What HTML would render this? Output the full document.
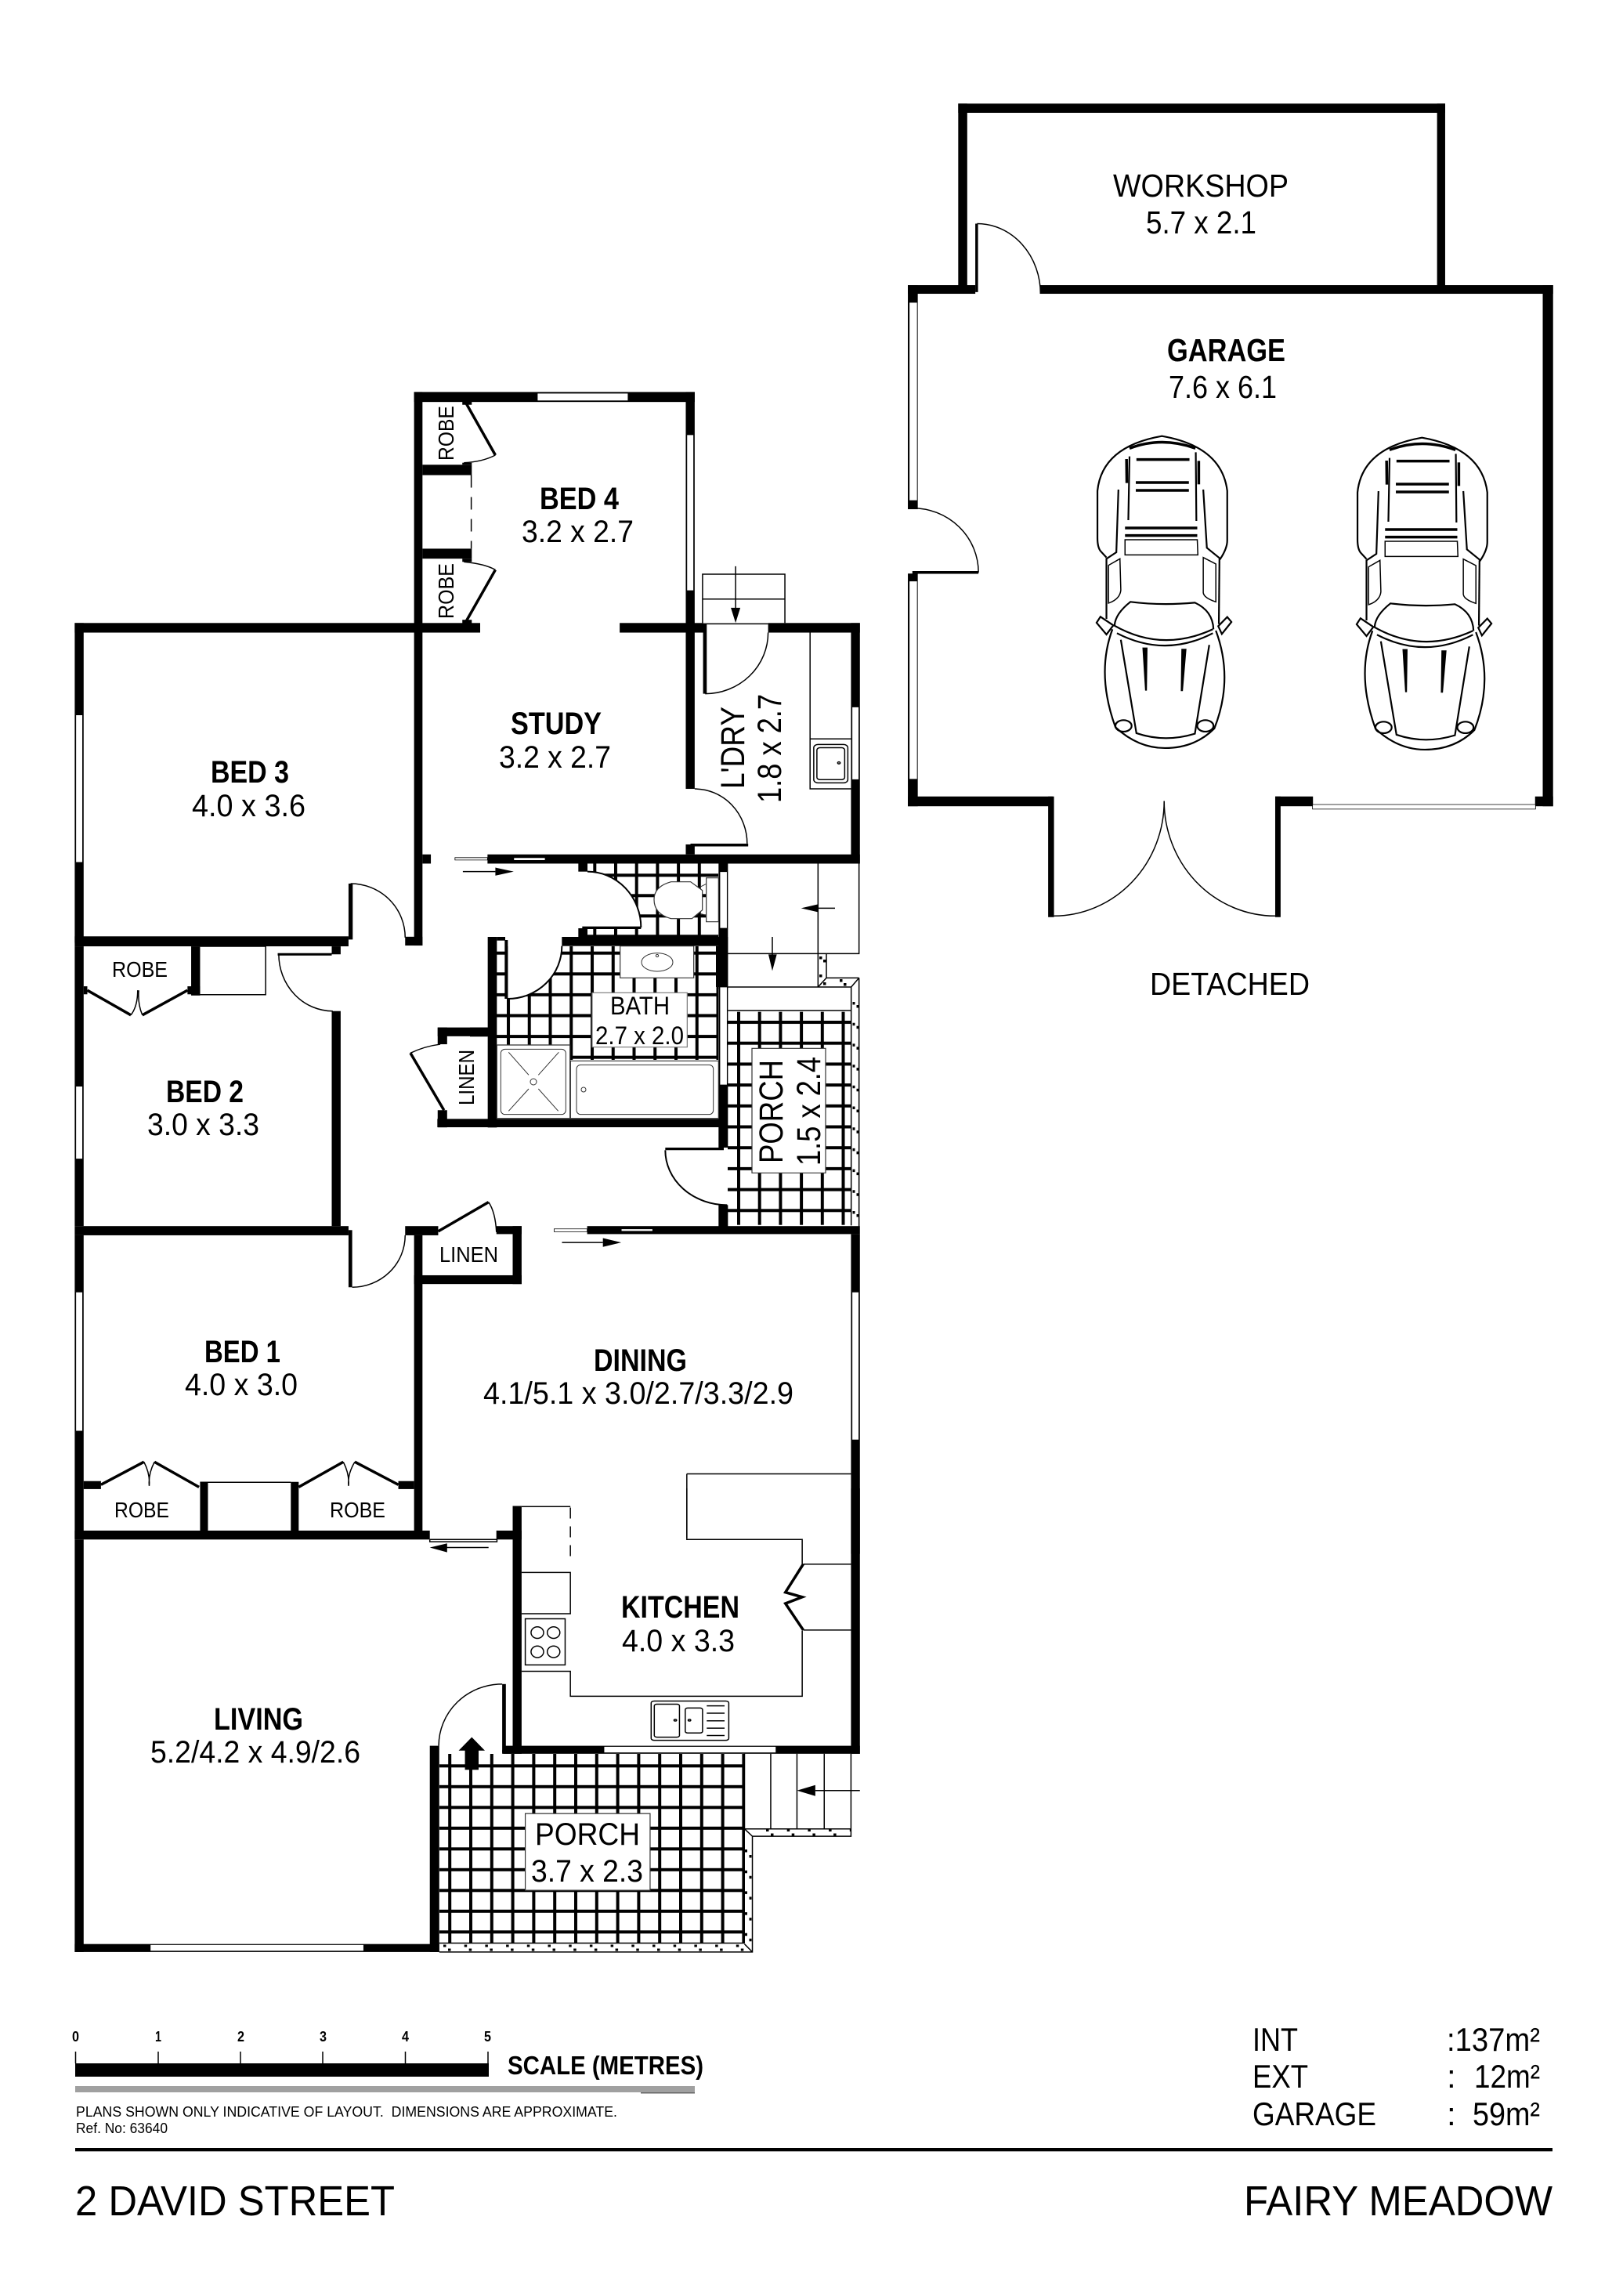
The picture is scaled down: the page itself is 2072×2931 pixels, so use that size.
<!DOCTYPE html>
<html><head><meta charset="utf-8"><title>2 David Street floor plan</title>
<style>
html,body{margin:0;padding:0;background:#fff}
svg{display:block}
svg *{vector-effect:non-scaling-stroke}
text{font-family:"Liberation Sans",sans-serif;fill:#000;font-size:40px}
.b{font-weight:bold}
.s{font-size:28px}
.l{font-size:41px}
.r{font-size:43px}
.w{fill:#000;stroke:none}
.win{fill:#fff;stroke:#000;stroke-width:.8}
.t{fill:none;stroke:#000;stroke-width:1.5}
.g{fill:none;stroke:#333;stroke-width:1}
.k{fill:none;stroke:#000;stroke-width:3.5}
.c{fill:none;stroke:#000;stroke-width:2.2}
.e{fill:#fff;stroke:none}
.f{fill:#fff;stroke:#333;stroke-width:1.2}
.h{fill:none;stroke:#000;stroke-width:3;stroke-dasharray:3.5 23.2}
</style></head><body>
<svg xmlns="http://www.w3.org/2000/svg" width="2072" height="2931" viewBox="0 0 2072 2931">
<defs>
<pattern id="tw" patternUnits="userSpaceOnUse" x="757.3" y="1115.3" width="26.7" height="26"><rect width="4" height="26" fill="#000"/><rect width="26.7" height="4" fill="#000"/></pattern>
<pattern id="tb" patternUnits="userSpaceOnUse" x="647" y="1214.7" width="26.75" height="26.6"><rect width="4" height="26.6" fill="#000"/><rect width="26.75" height="4" fill="#000"/></pattern>
<pattern id="tp" patternUnits="userSpaceOnUse" x="941" y="1303" width="26.7" height="26.7"><rect width="4" height="26.7" fill="#000"/><rect width="26.7" height="4" fill="#000"/></pattern>
<pattern id="tq" patternUnits="userSpaceOnUse" x="572.2" y="2252.3" width="26.8" height="26.5"><rect width="4" height="26.5" fill="#000"/><rect width="26.8" height="4" fill="#000"/></pattern>
</defs>
<rect width="2072" height="2931" fill="#fff"/>

<!-- tiles -->
<rect x="750" y="1102" width="167" height="94" fill="url(#tw)"/>
<rect x="634" y="1208" width="283" height="145" fill="url(#tb)"/>
<rect x="929" y="1291.7" width="158" height="272" fill="url(#tp)"/>
<rect x="561" y="2239" width="390" height="242" fill="url(#tq)"/>

<!-- hatching -->
<line class="h" x1="1090" y1="1279" x2="1090" y2="1562"/>
<line class="h" x1="1095" y1="1283" x2="1095" y2="1562"/>
<line class="h" x1="566" y1="2484" x2="955" y2="2484"/>
<line class="h" x1="572" y1="2489" x2="958" y2="2489"/>
<line class="h" x1="952.5" y1="2361" x2="952.5" y2="2482"/>
<line class="h" x1="958" y1="2368" x2="958" y2="2490"/>
<line class="h" x1="978" y1="2336.5" x2="1086" y2="2336.5"/>
<line class="h" x1="984" y1="2342" x2="1086" y2="2342"/>
<rect class="w" x="1046" y="1221" width="3.5" height="3.5"/>
<rect class="w" x="1051" y="1225" width="3.5" height="3.5"/>
<rect class="w" x="1046" y="1244" width="3.5" height="3.5"/>
<rect class="w" x="1051" y="1254" width="3.5" height="3.5"/>
<rect class="w" x="1072" y="1250" width="3.5" height="3.5"/>
<rect class="w" x="1077" y="1255" width="3.5" height="3.5"/>

<!-- GARAGE -->
<g transform="translate(1120,100) scale(.574,.7334)">
<rect class="w" x="180" y="44" width="1083" height="16"/>
<rect class="w" x="180" y="44" width="20" height="330"/>
<rect class="w" x="1245" y="44" width="18" height="330"/>
<rect class="w" x="68" y="360" width="150" height="15"/>
<rect class="w" x="362" y="360" width="1141" height="15"/>
<rect class="w" x="1480" y="360" width="23" height="907"/>
<rect class="w" x="68" y="360" width="22" height="390"/>
<rect class="win" x="71" y="390" width="18" height="345"/>
<rect class="w" x="68" y="862" width="22" height="405"/>
<rect class="win" x="71" y="875" width="18" height="345"/>
<rect class="w" x="68" y="1250" width="322" height="17"/>
<rect class="w" x="380" y="1250" width="13" height="210"/>
<rect class="w" x="885" y="1250" width="12" height="210"/>
<rect class="w" x="885" y="1250" width="84" height="17"/>
<rect class="w" x="1463" y="1250" width="40" height="17"/>
<rect class="win" x="968" y="1264" width="496" height="8"/>
<path class="t" d="M222,253 A141,122 0 0 1 363,375"/>
<path class="k" d="M221,253 L221,372"/>
<path class="t" d="M78,748 A147,112 0 0 1 225,860"/>
<path class="k" d="M78,860 L225,860"/>
<path class="t" d="M393,1458 A246,200 0 0 0 638,1258"/>
<path class="t" d="M885,1458 A247,200 0 0 1 638,1258"/>
</g>

<!-- CARS -->
<g transform="translate(1380,540) scale(.3827,.3333)">
<g id="car">
<path class="c" d="M85,515 L65,490 Q55,475 55,440 L55,260 Q70,90 270,50 Q470,90 488,260 L488,450 Q488,480 465,520 L420,478 L408,255"/>
<path class="c" d="M125,255 L118,495 L85,520 L85,750"/>
<path class="c" d="M462,520 L460,770"/>
<path class="k" d="M162,97 Q270,50 382,97"/>
<path class="k" d="M152,138 L153,230"/>
<path class="c" d="M162,128 L158,372 M383,112 L385,375"/>
<path class="k" d="M393,145 L393,235"/>
<path class="k" d="M185,140 L362,140 M183,228 L360,228 M183,258 L360,258 M147,402 L388,402 M147,431 L388,431"/>
<path class="t" d="M147,447 L388,447 L390,505 L147,505 Z"/>
<path class="t" d="M130,520 L92,545 L92,690 Q130,675 133,640 Z"/>
<path class="t" d="M408,515 L450,540 L450,685 Q410,670 408,650 Z"/>
<path class="c" d="M112,775 Q115,730 165,685 Q270,700 380,688 Q440,720 442,790"/>
<path class="c" d="M110,775 Q270,880 440,790 M120,805 Q280,900 440,805"/>
<path class="c" d="M105,790 Q50,960 115,1165 Q190,1245 280,1245 Q380,1245 445,1170 Q510,980 450,795"/>
<path class="c" d="M133,830 L185,1188 Q280,1225 380,1190 L428,850"/>
<path class="w" d="M205,860 L222,860 L220,1025 L214,1025 Z M335,865 L352,865 L340,1027 L333,1027 Z"/>
<ellipse class="c" cx="142" cy="1160" rx="27" ry="22"/>
<ellipse class="c" cx="415" cy="1160" rx="27" ry="22"/>
<path class="c" d="M52,765 L65,742 L108,775 L85,810 Z"/>
<path class="c" d="M458,778 L488,743 L502,762 L470,808 Z"/>
</g>
</g>
<use href="#car" transform="translate(1712,542) scale(.3827,.3333)"/>

<!-- NORTH WING -->
<g transform="translate(80,480) scale(.6696,.5102)">
<rect class="w" x="670" y="40" width="535" height="25"/>
<rect class="win" x="905" y="43" width="173" height="19"/>
<rect class="w" x="670" y="40" width="16" height="600"/>
<rect class="w" x="1188" y="40" width="17" height="585"/>
<rect class="win" x="1190" y="147" width="13" height="390"/>
<rect class="w" x="686" y="222" width="94" height="26"/>
<rect class="w" x="686" y="432" width="94" height="25"/>
<rect class="w" x="762" y="62" width="18" height="10"/>
<rect class="w" x="762" y="457" width="18" height="8"/>
<rect class="w" x="762" y="610" width="18" height="10"/>
<rect class="w" x="762" y="217" width="18" height="5"/>
<path class="k" d="M770,70 L825,198 M825,485 L770,612"/>
<path class="t" d="M825,198 Q800,215 765,217 M765,465 Q805,470 825,485"/>
<path class="t" d="M779,248 L779,432" stroke-dasharray="16 12"/>
<rect class="w" x="23" y="618" width="773" height="24"/>
<rect class="w" x="1062" y="618" width="160" height="24"/>
<rect class="w" x="1345" y="618" width="175" height="24"/>
<rect class="w" x="23" y="618" width="17" height="800"/>
<rect class="win" x="25" y="848" width="13" height="369"/>
<rect class="w" x="670" y="640" width="16" height="785"/>
<rect class="w" x="686" y="1197" width="16" height="23"/>
<rect class="w" x="653" y="1403" width="33" height="22"/>
<rect class="w" x="545" y="1270" width="8" height="140"/>
<path class="t" d="M549,1270 A104,135 0 0 1 653,1405"/>
<rect class="w" x="1188" y="640" width="17" height="393"/>
<rect class="w" x="1188" y="1172" width="17" height="25"/>
<rect class="w" x="1197" y="1170" width="110" height="7"/>
<path class="t" d="M1205,1033 A100,137 0 0 1 1305,1170"/>
<rect class="w" x="810" y="1197" width="710" height="23"/>
<rect class="win" x="860" y="1205" width="60" height="7"/>
<rect class="win" x="748" y="1205" width="62" height="6"/>
<rect class="w" x="1503" y="618" width="17" height="602"/>
<rect class="win" x="1505" y="828" width="13" height="182"/>
<path class="t" d="M1425,642 L1425,1033 L1503,1033 M1425,908 L1503,908"/>
<rect class="t" x="1432" y="922" width="65" height="96" rx="8"/>
<rect class="t" x="1438" y="930" width="53" height="80" rx="6"/>
<circle class="t" cx="1480" cy="968" r="2.5"/>
<path class="t" d="M1220,618 L1220,496 L1377,496 L1377,618 M1220,558 L1377,558 M1222,620 L1345,620"/>
<path class="t" d="M1283,476 L1283,585"/>
<polygon class="w" points="1274,580 1292,580 1283,618"/>
<rect class="w" x="1221" y="620" width="7" height="175"/>
<path class="t" d="M1225,795 A120,153 0 0 0 1345,642"/>
<path class="t" d="M763,1240 L825,1240"/>
<polygon class="w" points="825,1230 860,1240 825,1250"/>
</g>

<!-- BATH / WC -->
<g transform="translate(600,1060) scale(.33333,.33333)">
<path class="e" d="M450,158 A205,214 0 0 1 655,372 L450,372 Z"/>
<path class="e" d="M145,645 A207,202 0 0 0 352,443 L145,443 Z"/>
<rect class="w" x="415" y="125" width="35" height="33"/>
<path class="t" d="M450,158 A205,214 0 0 1 655,372" style="stroke-width:2"/>
<rect class="w" x="430" y="368" width="225" height="10"/>
<rect class="w" x="415" y="375" width="35" height="33"/>
<rect class="w" x="352" y="408" width="636" height="35"/>
<rect class="w" x="952" y="125" width="36" height="483"/>
<rect class="w" x="942" y="443" width="46" height="157"/>
<rect class="win" x="957" y="158" width="28" height="217"/>
<rect class="w" x="952" y="600" width="36" height="375"/>
<rect class="win" x="957" y="600" width="28" height="375"/>
<rect class="w" x="952" y="975" width="36" height="240"/>
<rect class="w" x="748" y="1215" width="224" height="10"/>
<path class="e" d="M748,1225 A237,210 0 0 0 985,1435 L985,1225 Z"/>
<path class="t" d="M748,1225 A237,210 0 0 0 985,1435" style="stroke-width:2"/>
<rect class="w" x="952" y="1435" width="36" height="90"/>
<rect class="w" x="68" y="408" width="35" height="730"/>
<rect class="w" x="103" y="408" width="32" height="14"/>
<rect class="w" x="133" y="420" width="12" height="225"/>
<path class="t" d="M145,645 A207,202 0 0 0 352,443" style="stroke-width:2"/>
<rect class="w" x="-125" y="1105" width="1110" height="32"/>
<rect class="w" x="0" y="755" width="68" height="35"/>
<!-- fixtures -->
<rect class="f" x="575" y="443" width="282" height="122"/>
<ellipse class="g" cx="717" cy="505" rx="60" ry="35"/>
<circle class="g" cx="717" cy="480" r="5"/>
<rect class="f" x="905" y="182" width="47" height="168"/>
<path class="f" d="M770,197 L845,197 L890,230 L890,305 L850,338 L770,338 Q705,320 705,265 Q705,215 770,197 Z"/>
<path class="g" d="M885,215 L905,205 M885,320 L905,325"/>
<rect class="f" x="103" y="822" width="280" height="281"/>
<rect class="g" x="118" y="838" width="249" height="250" rx="16"/>
<circle class="g" cx="243" cy="963" r="12"/>
<path class="g" d="M148,850 L225,937 M340,850 L262,937 M148,1075 L225,990 M338,1075 L262,990"/>
<rect class="f" x="385" y="883" width="567" height="220"/>
<rect class="g" x="408" y="898" width="524" height="190" rx="16"/>
<circle class="g" cx="435" cy="993" r="9"/>
<!-- stairs east -->
<path class="t" d="M988,125 L1490,125 L1490,472 L988,472 M1333,125 L1333,600 M988,600 L1460,600 M988,690 L1460,690 M1333,472 L1365,472 L1365,565 L1490,565 M1333,600 L1365,565 M1460,600 L1490,565 M1490,565 L1490,1530 M1460,600 L1460,1513"/>
<path class="t" d="M1398,298 L1300,298 M1158,408 L1158,480"/>
<polygon class="w" points="1268,298 1333,283 1333,313"/>
<polygon class="w" points="1143,475 1175,475 1158,538"/>
<!-- bath + porch labels -->
<rect class="f" x="468" y="622" width="364" height="208" style="stroke:#777"/>
<rect class="f" x="1080" y="835" width="282" height="477"/>
</g>

<!-- MIDDLE -->
<g transform="translate(80,1180) scale(.6696,.5102)">
<rect class="w" x="23" y="30" width="522" height="25"/>
<rect class="w" x="513" y="55" width="17" height="20"/>
<rect class="w" x="410" y="72" width="103" height="6"/>
<path class="t" d="M412,75 A103,142 0 0 0 515,217"/>
<rect class="w" x="513" y="217" width="17" height="538"/>
<rect class="w" x="245" y="55" width="17" height="123"/>
<path class="t" d="M262,55 L387,55 L387,176 L262,176"/>
<rect class="w" x="23" y="55" width="17" height="700"/>
<rect class="win" x="25" y="405" width="13" height="182"/>
<rect class="w" x="40" y="155" width="7" height="20"/>
<rect class="w" x="238" y="155" width="24" height="20"/>
<path class="k" d="M47,165 L130,227 M152,227 L238,165"/>
<path class="t" d="M130,227 Q143,205 143,165 M152,227 Q143,200 145,165"/>
<rect class="w" x="23" y="755" width="522" height="23"/>
<rect class="w" x="545" y="765" width="7" height="143"/>
<path class="t" d="M552,908 A101,130 0 0 0 653,778"/>
<rect class="w" x="653" y="755" width="63" height="23"/>
<rect class="w" x="827" y="755" width="48" height="20"/>
<rect class="w" x="858" y="755" width="17" height="145"/>
<rect class="w" x="670" y="878" width="205" height="22"/>
<rect class="w" x="670" y="778" width="16" height="760"/>
<path class="k" d="M716,768 L812,695"/>
<path class="t" d="M812,695 Q825,720 827,770"/>
<rect class="w" x="1000" y="755" width="520" height="20"/>
<rect class="win" x="1065" y="762" width="60" height="6"/>
<rect class="win" x="937" y="762" width="63" height="7"/>
<path class="t" d="M952,796 L1030,796"/>
<polygon class="w" points="1030,785 1065,796 1030,807"/>
<rect class="w" x="1503" y="775" width="17" height="800"/>
<rect class="win" x="1505" y="920" width="13" height="370"/>
<rect class="w" x="23" y="778" width="17" height="760"/>
<rect class="win" x="25" y="920" width="13" height="348"/>
<rect class="w" x="715" y="258" width="111" height="22"/>
<rect class="w" x="715" y="258" width="18" height="42"/>
<rect class="w" x="715" y="465" width="18" height="43"/>
<path class="k" d="M663,322 L727,465"/>
<path class="t" d="M663,322 Q690,305 720,300"/>
<path class="t" d="M262,1396 L435,1396"/>
<rect class="w" x="262" y="1395" width="15" height="125"/>
<rect class="w" x="435" y="1395" width="15" height="125"/>
<rect class="w" x="40" y="1393" width="33" height="20"/>
<rect class="w" x="640" y="1393" width="30" height="20"/>
<path class="k" d="M73,1402 L155,1345 M175,1345 L260,1408 M450,1408 L535,1345 M557,1345 L640,1402"/>
<path class="t" d="M155,1345 Q167,1375 165,1405 M175,1345 Q163,1375 165,1405 M535,1345 Q547,1375 545,1405 M557,1345 Q543,1375 545,1405"/>
<path class="t" d="M1190,1375 L1503,1375 M1190,1375 L1190,1535"/>
</g>

<!-- SOUTH -->
<g transform="translate(80,1900) scale(.6696,.4082)">
<rect class="w" x="23" y="132" width="677" height="28"/>
<rect class="w" x="828" y="132" width="47" height="28"/>
<rect class="w" x="858" y="55" width="17" height="775"/>
<path class="t" d="M875,57 L968,57"/>
<path class="t" d="M968,60 L968,230" stroke-dasharray="14 10"/>
<path class="t" d="M700,160 L700,167 L828,167 L828,132 M700,160 L828,160"/>
<path class="t" d="M730,185 L812,185"/>
<polygon class="w" points="733,172 733,200 700,185"/>
<path class="t" d="M875,263 L968,263 L968,392 L875,392"/>
<rect class="t" x="882" y="408" width="76" height="144"/>
<ellipse class="t" cx="905" cy="451" rx="12" ry="18"/><ellipse class="t" cx="936" cy="451" rx="12" ry="18"/>
<ellipse class="t" cx="905" cy="511" rx="12" ry="18"/><ellipse class="t" cx="936" cy="511" rx="12" ry="18"/>
<path class="t" d="M875,572 L968,572 L968,650 L1410,650 L1410,445"/>
<path class="t" d="M1190,0 L1190,160 L1410,160 L1410,237"/>
<path class="t" d="M1503,237 L1412,237 M1412,443 L1503,443"/>
<path class="k" d="M1412,237 L1378,325 L1410,340 L1378,360 L1412,443"/>
<rect class="w" x="840" y="805" width="680" height="25"/>
<rect class="win" x="1032" y="807" width="328" height="20"/>
<rect class="w" x="1503" y="0" width="17" height="830"/>
<rect class="t" x="1122" y="665" width="148" height="123" rx="6"/>
<rect class="t" x="1128" y="675" width="48" height="103" rx="5"/>
<rect class="t" x="1187" y="687" width="33" height="78" rx="5"/>
<circle class="t" cx="1168" cy="725" r="2.5"/><circle class="t" cx="1195" cy="725" r="2.5"/>
<path class="t" d="M1228,680 L1262,680 M1228,703 L1262,703 M1228,727 L1262,727 M1228,750 L1262,750 M1228,773 L1262,773"/>
<rect class="w" x="23" y="160" width="17" height="1290"/>
<rect class="w" x="23" y="1425" width="695" height="25"/>
<rect class="win" x="167" y="1427" width="407" height="20"/>
<rect class="w" x="700" y="805" width="18" height="645"/>
<rect class="w" x="838" y="612" width="7" height="215"/>
<rect class="w" x="838" y="818" width="22" height="12"/>
<path class="t" d="M838,612 A121,193 0 0 0 717,805"/>
<polygon class="w" points="755,820 780,778 805,820 793,820 793,880 767,880 767,820"/>
<path class="t" d="M1300,830 L1300,1065 L1503,1065 L1503,1088 L1315,1088 L1315,1450 L718,1450 M1300,1065 L1315,1088 M1300,1422 L718,1422 M1350,830 L1350,1065 M1400,830 L1400,1065 M1452,830 L1452,1065 M1503,830 L1503,1065 M1300,1425 L1315,1450"/>
<path class="t" d="M1520,945 L1435,945"/>
<polygon class="w" points="1400,945 1435,928 1435,962"/>
<rect class="f" x="882" y="1017" width="238" height="240"/>
</g>

<!-- LABELS -->
<g>
<text class="l" x="1421" y="251" textLength="224" lengthAdjust="spacingAndGlyphs">WORKSHOP</text>
<text class="l" x="1463" y="298" textLength="141" lengthAdjust="spacingAndGlyphs">5.7 x 2.1</text>
<text class="b l" x="1490" y="461" textLength="151" lengthAdjust="spacingAndGlyphs">GARAGE</text>
<text class="l" x="1492" y="508" textLength="138" lengthAdjust="spacingAndGlyphs">7.6 x 6.1</text>
<text class="l" x="1468" y="1270" textLength="204" lengthAdjust="spacingAndGlyphs">DETACHED</text>

<text class="b" x="689" y="650" textLength="101" lengthAdjust="spacingAndGlyphs">BED 4</text>
<text x="666" y="692" textLength="143" lengthAdjust="spacingAndGlyphs">3.2 x 2.7</text>
<text class="b" x="652" y="937" textLength="116" lengthAdjust="spacingAndGlyphs">STUDY</text>
<text x="637" y="980" textLength="143" lengthAdjust="spacingAndGlyphs">3.2 x 2.7</text>
<text class="b" x="269" y="999" textLength="100" lengthAdjust="spacingAndGlyphs">BED 3</text>
<text x="245" y="1042" textLength="145" lengthAdjust="spacingAndGlyphs">4.0 x 3.6</text>
<text class="r" transform="translate(950,1007) rotate(-90)" textLength="105" lengthAdjust="spacingAndGlyphs">L'DRY</text>
<text class="r" transform="translate(997,1025) rotate(-90)" textLength="139" lengthAdjust="spacingAndGlyphs">1.8 x 2.7</text>
<text class="s" transform="translate(579,588) rotate(-90)" textLength="70" lengthAdjust="spacingAndGlyphs">ROBE</text>
<text class="s" transform="translate(579,790) rotate(-90)" textLength="71" lengthAdjust="spacingAndGlyphs">ROBE</text>
<text class="s" x="143" y="1247" textLength="71" lengthAdjust="spacingAndGlyphs">ROBE</text>
<text class="b" x="212" y="1407" textLength="99" lengthAdjust="spacingAndGlyphs">BED 2</text>
<text x="188" y="1449" textLength="143" lengthAdjust="spacingAndGlyphs">3.0 x 3.3</text>
<text class="s" transform="translate(605,1411) rotate(-90)" textLength="71" lengthAdjust="spacingAndGlyphs">LINEN</text>
<text class="s" x="561" y="1611" textLength="75" lengthAdjust="spacingAndGlyphs">LINEN</text>
<text class="r" transform="translate(999,1485) rotate(-90)" textLength="132" lengthAdjust="spacingAndGlyphs">PORCH</text>
<text class="r" transform="translate(1047,1488) rotate(-90)" textLength="139" lengthAdjust="spacingAndGlyphs">1.5 x 2.4</text>
<text style="font-size:32px" x="779" y="1295" textLength="76" lengthAdjust="spacingAndGlyphs">BATH</text>
<text style="font-size:32px" x="760" y="1333" textLength="113" lengthAdjust="spacingAndGlyphs">2.7 x 2.0</text>
<text class="b" x="261" y="1739" textLength="97" lengthAdjust="spacingAndGlyphs">BED 1</text>
<text x="236" y="1781" textLength="144" lengthAdjust="spacingAndGlyphs">4.0 x 3.0</text>
<text class="b" x="758" y="1750" textLength="119" lengthAdjust="spacingAndGlyphs">DINING</text>
<text x="617" y="1792" textLength="396" lengthAdjust="spacingAndGlyphs">4.1/5.1 x 3.0/2.7/3.3/2.9</text>
<text class="s" x="146" y="1937" textLength="70" lengthAdjust="spacingAndGlyphs">ROBE</text>
<text class="s" x="421" y="1937" textLength="71" lengthAdjust="spacingAndGlyphs">ROBE</text>
<text class="b" x="793" y="2065" textLength="151" lengthAdjust="spacingAndGlyphs">KITCHEN</text>
<text x="794" y="2108" textLength="144" lengthAdjust="spacingAndGlyphs">4.0 x 3.3</text>
<text class="b" x="273" y="2208" textLength="114" lengthAdjust="spacingAndGlyphs">LIVING</text>
<text x="192" y="2250" textLength="268" lengthAdjust="spacingAndGlyphs">5.2/4.2 x 4.9/2.6</text>
<text x="683" y="2355" textLength="134" lengthAdjust="spacingAndGlyphs">PORCH</text>
<text x="678" y="2402" textLength="143" lengthAdjust="spacingAndGlyphs">3.7 x 2.3</text>
</g>

<!-- SCALE -->
<g>
<rect x="96" y="2634" width="528" height="17" fill="#000"/>
<path class="t" d="M96.5,2619 L96.5,2634 M202,2619 L202,2634 M307,2619 L307,2634 M412,2619 L412,2634 M517.5,2619 L517.5,2634 M623,2619 L623,2634"/>
<text class="b" style="font-size:18px" x="92" y="2606" textLength="9" lengthAdjust="spacingAndGlyphs">0</text>
<text class="b" style="font-size:18px" x="198" y="2606" textLength="8" lengthAdjust="spacingAndGlyphs">1</text>
<text class="b" style="font-size:18px" x="303" y="2606" textLength="9" lengthAdjust="spacingAndGlyphs">2</text>
<text class="b" style="font-size:18px" x="408" y="2606" textLength="9" lengthAdjust="spacingAndGlyphs">3</text>
<text class="b" style="font-size:18px" x="513" y="2606" textLength="9" lengthAdjust="spacingAndGlyphs">4</text>
<text class="b" style="font-size:18px" x="618" y="2606" textLength="9" lengthAdjust="spacingAndGlyphs">5</text>
<text class="b" style="font-size:33px" x="648" y="2648" textLength="250" lengthAdjust="spacingAndGlyphs">SCALE (METRES)</text>
<rect x="96" y="2663" width="791" height="8" fill="#a0a0a0"/>
<rect x="818" y="2671" width="69" height="1.5" fill="#666"/>
<text style="font-size:18px" x="97" y="2702" textLength="691" lengthAdjust="spacingAndGlyphs">PLANS SHOWN ONLY INDICATIVE OF LAYOUT.&#160;&#160;DIMENSIONS ARE APPROXIMATE.</text>
<text style="font-size:18px" x="97" y="2723" textLength="117" lengthAdjust="spacingAndGlyphs">Ref. No: 63640</text>
<rect x="96" y="2742" width="1886" height="4" fill="#000"/>
<rect x="96" y="2746" width="1886" height="1" fill="#aaa"/>
<text style="font-size:54px" x="96" y="2828" textLength="408" lengthAdjust="spacingAndGlyphs">2 DAVID STREET</text>
<text style="font-size:54px" x="1588" y="2828" textLength="394" lengthAdjust="spacingAndGlyphs">FAIRY MEADOW</text>
<text style="font-size:42px" x="1599" y="2618" textLength="58" lengthAdjust="spacingAndGlyphs">INT</text>
<text style="font-size:42px" x="1599" y="2665" textLength="71" lengthAdjust="spacingAndGlyphs">EXT</text>
<text style="font-size:42px" x="1599" y="2713" textLength="158" lengthAdjust="spacingAndGlyphs">GARAGE</text>
<text style="font-size:42px" x="1847" y="2618" textLength="119" lengthAdjust="spacingAndGlyphs">:137m²</text>
<text style="font-size:42px" x="1847" y="2665">:</text>
<text style="font-size:42px" x="1882" y="2665" textLength="84" lengthAdjust="spacingAndGlyphs">12m²</text>
<text style="font-size:42px" x="1847" y="2713">:</text>
<text style="font-size:42px" x="1880" y="2713" textLength="86" lengthAdjust="spacingAndGlyphs">59m²</text>
</g>
</svg>
</body></html>
